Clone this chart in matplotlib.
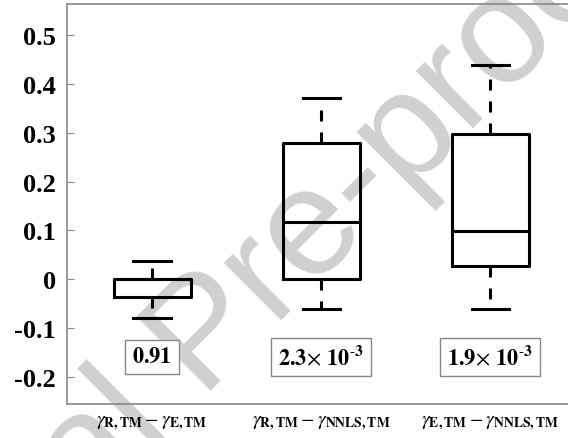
import matplotlib.pyplot as plt

plt.rcParams['mathtext.fontset'] = 'stix'
plt.rcParams['font.family'] = 'Liberation Serif'

# box statistics
labels = [r'$\gamma_{\mathbf{R,TM}} - \gamma_{\mathbf{E,TM}}$',
          r'$\gamma_{\mathbf{R,TM}} - \gamma_{\mathbf{NNLS,TM}}$',
          r'$\gamma_{\mathbf{E,TM}} - \gamma_{\mathbf{NNLS,TM}}$']
q1 = [-0.037, 0.0, 0.028]
med = [0.0, 0.117, 0.098]
q3 = [0.0, 0.278, 0.297]
whislo = [-0.080, -0.061, -0.061]
whishi = [0.037, 0.371, 0.438]
pvals = [r'$\mathbf{0.91}$', r'$\mathbf{2.3}\!\times\,\mathbf{10^{\text{-}3}}$',
         r'$\mathbf{1.9}\!\times\,\mathbf{10^{\text{-}3}}$']
yticks = [-0.2, -0.1, 0, 0.1, 0.2, 0.3, 0.4, 0.5]
ytick_labels = ['-0.2', '-0.1', '0', '0.1', '0.2', '0.3', '0.4', '0.5']

stats = []
for i in range(3):
    stats.append({'q1': q1[i], 'med': med[i], 'q3': q3[i],
                  'whislo': whislo[i], 'whishi': whishi[i], 'fliers': []})

fig = plt.figure(figsize=(5.68, 4.39), dpi=100)
ax = fig.add_axes([67 / 568, 34 / 439, 1 - 67 / 568, 400 / 439])

lw = 2.2
ax.bxp(stats, positions=[1, 2, 3], widths=0.455, showfliers=False,
       boxprops=dict(color='black', linewidth=lw),
       medianprops=dict(color='black', linewidth=lw),
       whiskerprops=dict(color='black', linewidth=lw, linestyle=(0, (3.6, 3.6))),
       capprops=dict(color='black', linewidth=lw), capwidths=0.22)

ax.set_xlim(0.497, 3.46)
ax.set_ylim(-0.255, 0.563)
ax.set_yticks(yticks)
ax.set_yticklabels(ytick_labels, fontsize=19, fontweight='bold')
ax.set_xticks([1, 2, 3])
ax.set_xticklabels(labels, fontsize=14)
ax.tick_params(axis='y', direction='in', length=5, color='#888888', pad=8)
ax.tick_params(axis='x', length=0, pad=7)
for s in ['left', 'top', 'bottom']:
    ax.spines[s].set_color('#888888')
    ax.spines[s].set_linewidth(1.2)
ax.spines['right'].set_visible(False)

for i in range(3):
    ax.text(i + 1, -0.159, pvals[i], ha='center', va='center', fontsize=16,
            bbox=dict(boxstyle='square,pad=0.32', fc='white', ec='#888888', lw=1))

# watermark
fig.text(0.603, 0.535, 'al Pre-proof', fontsize=110, color='#d0d0d0',
         family='Liberation Sans', rotation=45,
         ha='center', va='center', zorder=0)
ax.set_zorder(1)
ax.patch.set_alpha(0)

fig.savefig('out.png', dpi=100)
